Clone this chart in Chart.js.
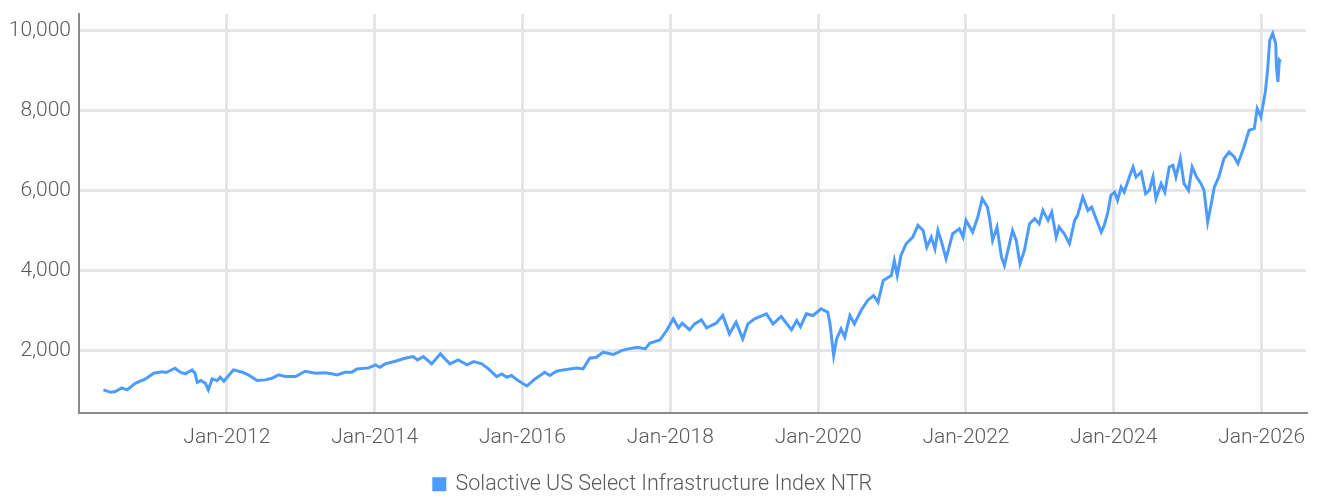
<!DOCTYPE html>
<html>
<head>
<meta charset="utf-8">
<script src="https://cdn.jsdelivr.net/npm/chart.js@4/dist/chart.umd.min.js"></script>
<style>
  html, body { margin: 0; padding: 0; background: #fff; }
  #wrap { width: 1317px; height: 498px; }
</style>
</head>
<body>
<div id="wrap"><canvas id="chart" width="1317" height="498"></canvas></div>
<script>
// decimal years
var dates = [
    2010.33, 2010.43, 2010.49, 2010.58, 2010.65, 2010.76, 2010.90, 2011.01, 2011.12, 2011.18,
    2011.30, 2011.37, 2011.44, 2011.53, 2011.57, 2011.60, 2011.65, 2011.71, 2011.75, 2011.80,
    2011.87, 2011.91, 2011.96, 2012.09, 2012.21, 2012.29, 2012.41, 2012.52, 2012.61, 2012.70,
    2012.79, 2012.93, 2013.06, 2013.20, 2013.33, 2013.42, 2013.49, 2013.60, 2013.69, 2013.76,
    2013.92, 2014.01, 2014.07, 2014.14, 2014.28, 2014.41, 2014.52, 2014.58, 2014.66, 2014.77,
    2014.89, 2014.95, 2015.02, 2015.13, 2015.25, 2015.34, 2015.45, 2015.54, 2015.65, 2015.72,
    2015.79, 2015.85, 2015.94, 2016.06, 2016.17, 2016.30, 2016.37, 2016.46, 2016.55, 2016.73,
    2016.82, 2016.91, 2017.00, 2017.09, 2017.23, 2017.34, 2017.43, 2017.56, 2017.66, 2017.72,
    2017.86, 2017.95, 2018.04, 2018.11, 2018.16, 2018.26, 2018.33, 2018.42, 2018.49, 2018.62,
    2018.71, 2018.80, 2018.89, 2018.98, 2019.05, 2019.14, 2019.30, 2019.39, 2019.50, 2019.64,
    2019.71, 2019.76, 2019.84, 2019.93, 2020.04, 2020.13, 2020.16, 2020.21, 2020.25, 2020.31,
    2020.36, 2020.43, 2020.49, 2020.58, 2020.67, 2020.75, 2020.81, 2020.88, 2020.99, 2021.03,
    2021.07, 2021.12, 2021.19, 2021.28, 2021.35, 2021.42, 2021.47, 2021.53, 2021.58, 2021.62,
    2021.67, 2021.73, 2021.82, 2021.91, 2021.96, 2022.00, 2022.09, 2022.16, 2022.22, 2022.29,
    2022.32, 2022.36, 2022.42, 2022.48, 2022.52, 2022.63, 2022.68, 2022.73, 2022.79, 2022.86,
    2022.93, 2022.99, 2023.04, 2023.11, 2023.16, 2023.22, 2023.26, 2023.33, 2023.40, 2023.47,
    2023.51, 2023.58, 2023.65, 2023.70, 2023.76, 2023.83, 2023.87, 2023.92, 2023.96, 2024.01,
    2024.05, 2024.10, 2024.14, 2024.21, 2024.26, 2024.30, 2024.37, 2024.43, 2024.48, 2024.53,
    2024.57, 2024.64, 2024.69, 2024.75, 2024.80, 2024.84, 2024.90, 2024.95, 2025.01, 2025.06,
    2025.12, 2025.18, 2025.22, 2025.27, 2025.31, 2025.36, 2025.42, 2025.49, 2025.56, 2025.63,
    2025.68, 2025.76, 2025.83, 2025.90, 2025.94, 2025.99, 2026.05, 2026.08, 2026.11, 2026.15,
    2026.19, 2026.20, 2026.22, 2026.24, 2026.26
];
var values = [
    1016, 955, 973, 1065, 1016, 1181, 1290, 1431, 1466, 1449,
    1557, 1457, 1416, 1516, 1431, 1206, 1249, 1181, 1016, 1290,
    1249, 1332, 1232, 1516, 1457, 1391, 1249, 1266, 1307, 1391,
    1349, 1349, 1482, 1432, 1445, 1420, 1391, 1457, 1457, 1541,
    1566, 1641, 1583, 1666, 1733, 1808, 1850, 1766, 1850, 1666,
    1917, 1792, 1666, 1766, 1641, 1724, 1666, 1541, 1349, 1416,
    1332, 1374, 1249, 1115, 1290, 1457, 1374, 1482, 1516, 1566,
    1541, 1808, 1833, 1958, 1900, 2000, 2042, 2083, 2042, 2183,
    2267, 2501, 2793, 2568, 2684, 2518, 2668, 2769, 2568, 2684,
    2877, 2418, 2709, 2293, 2668, 2793, 2919, 2668, 2852, 2518,
    2752, 2593, 2919, 2877, 3044, 2960, 2668, 1875, 2293, 2543,
    2334, 2877, 2668, 3002, 3253, 3378, 3210, 3754, 3879, 4255,
    3879, 4380, 4672, 4838, 5131, 5006, 4588, 4838, 4547, 5006,
    4713, 4296, 4923, 5048, 4838, 5257, 4964, 5340, 5800, 5590,
    5300, 4755, 5089, 4338, 4129, 5006, 4755, 4172, 4505, 5173,
    5298, 5173, 5507, 5257, 5465, 4838, 5089, 4923, 4672, 5257,
    5382, 5840, 5507, 5590, 5298, 4964, 5131, 5465, 5883, 5965,
    5758, 6091, 5965, 6342, 6592, 6342, 6467, 5925, 6008, 6342,
    5800, 6175, 5965, 6592, 6634, 6342, 6801, 6175, 6008, 6592,
    6342, 6175, 6008, 5215, 5590, 6091, 6342, 6801, 6968, 6843,
    6676, 7093, 7511, 7553, 8055, 7845, 8471, 9014, 9766, 9933,
    9683, 9097, 8721, 9265, 9225
];
var yearTicks = [2012, 2014, 2016, 2018, 2020, 2022, 2024, 2026];
var valueTicks = [2000, 4000, 6000, 8000, 10000];
var seriesName = 'Solactive US Select Infrastructure Index NTR';

var FONT = "Roboto, 'Noto Sans', sans-serif";
var LINE = 'rgb(77, 155, 255)';
var TEXT = '#5a5a5a';

var points = dates.map(function (d, i) { return { x: d, y: values[i] }; });

var ctx = document.getElementById('chart').getContext('2d');
var chart = new Chart(ctx, {
    type: 'line',
    data: {
        datasets: [{
            label: seriesName,
            data: points,
            borderColor: LINE,
            backgroundColor: LINE,
            borderWidth: 3,
            pointRadius: 0,
            tension: 0
        }]
    },
    options: {
        responsive: false,
        animation: false,
        layout: {
            padding: { left: 0, right: 11, top: 14, bottom: -7 }
        },
        plugins: {
            tooltip: { enabled: false },
            legend: {
                position: 'bottom',
                labels: {
                    boxWidth: 11,
                    boxHeight: 11,
                    padding: 12,
                    color: TEXT,
                    font: { family: FONT, size: 21.5, weight: 300 }
                }
            }
        },
        scales: {
            x: {
                type: 'linear',
                min: 2010,
                max: 2026.6,
                afterBuildTicks: function (scale) {
                    scale.ticks = yearTicks.map(function (v) { return { value: v }; });
                },
                afterFit: function (scale) {
                    scale.height = 49;
                    scale.paddingLeft = 0;
                    scale.paddingRight = 0;
                },
                ticks: {
                    color: TEXT,
                    padding: 13,
                    maxRotation: 0,
                    font: { family: FONT, size: 21, weight: 300 },
                    callback: function (v) { return 'Jan-' + v; }
                },
                grid: { color: '#e6e6e6', lineWidth: 3, drawTicks: false },
                border: { color: '#8c8c8c', width: 2 }
            },
            y: {
                min: 450,
                max: 10420,
                afterBuildTicks: function (scale) {
                    scale.ticks = valueTicks.map(function (v) { return { value: v }; });
                },
                afterFit: function (scale) {
                    scale.width = 79;
                    scale.paddingTop = 0;
                    scale.paddingBottom = 0;
                },
                ticks: {
                    color: TEXT,
                    padding: 8,
                    font: { family: FONT, size: 21, weight: 300 },
                    callback: function (v) { return v.toLocaleString('en-US'); }
                },
                grid: { color: '#e6e6e6', lineWidth: 3, drawTicks: false },
                border: { color: '#8c8c8c', width: 2 }
            }
        }
    }
});
</script>
</body>
</html>
